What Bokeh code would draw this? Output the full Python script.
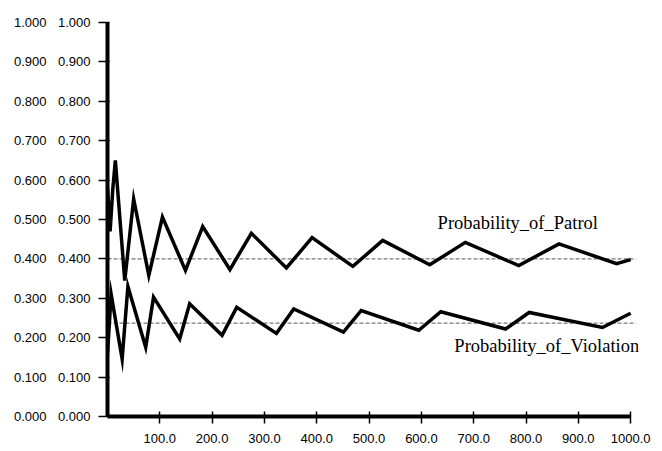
from bokeh.plotting import figure
from bokeh.models import Range1d, LinearAxis, FixedTicker, PrintfTickFormatter, Label
from bokeh.embed import file_html
from bokeh.resources import INLINE

# ---- data ----
t_patrol = [0, 5, 10, 15, 33, 50, 79, 105, 149, 182, 234, 275, 342, 391, 469, 526, 616, 684, 786, 863, 973, 1000]
patrol = [0.58, 0.47, 0.575, 0.65, 0.345, 0.552, 0.358, 0.506, 0.371, 0.482, 0.373, 0.465,
          0.377, 0.454, 0.381, 0.447, 0.385, 0.442, 0.383, 0.438, 0.388, 0.398]
t_violation = [0, 4, 7, 28, 39, 73, 88, 138, 157, 219, 247, 323, 356, 451, 485, 595, 637, 761, 806, 946, 1000]
violation = [0.16, 0.245, 0.31, 0.146, 0.33, 0.176, 0.303, 0.197, 0.286, 0.206, 0.277, 0.211,
             0.273, 0.214, 0.269, 0.219, 0.266, 0.222, 0.264, 0.226, 0.262]
t_equilibrium = [0, 1010]
patrol_equilibrium = 0.40
violation_equilibrium = 0.237
x_ticks = [100, 200, 300, 400, 500, 600, 700, 800, 900, 1000]
y_ticks = [0.0, 0.1, 0.2, 0.3, 0.4, 0.5, 0.6, 0.7, 0.8, 0.9, 1.0]
label_patrol = "Probability_of_Patrol"
label_violation = "Probability_of_Violation"

TICK_FONT = "Liberation Sans"

p = figure(width=662, height=451, x_range=Range1d(0, 1015), y_range=Range1d(0, 1),
           output_backend="svg", toolbar_location=None,
           min_border_left=107, min_border_right=24, min_border_top=22, min_border_bottom=35)
p.xgrid.visible = False
p.ygrid.visible = False
p.outline_line_color = None
p.background_fill_color = "white"
p.border_fill_color = "white"

# equilibrium reference lines
p.line(t_equilibrium, [patrol_equilibrium] * 2, line_color="#555555", line_width=1, line_dash="4 2")
p.line(t_equilibrium, [violation_equilibrium] * 2, line_color="#555555", line_width=1, line_dash="4 2")

# series
p.line(t_patrol, patrol, line_color="black", line_width=3.5, line_join="miter")
p.line(t_violation, violation, line_color="black", line_width=3.5, line_join="miter")

# x axis
xa = p.xaxis[0]
xa.ticker = FixedTicker(ticks=x_ticks)
xa.formatter = PrintfTickFormatter(format="%.1f")
xa.bounds = (0, 1000)
xa.axis_line_width = 4
xa.axis_line_color = "black"
xa.major_tick_in = 5
xa.major_tick_out = 7
xa.major_tick_line_width = 1.5
xa.minor_tick_line_color = None
xa.major_label_standoff = 10
xa.major_label_text_font = TICK_FONT
xa.major_label_text_font_size = "13px"
xa.major_label_text_color = "black"

# y axis (inner)
ya = p.yaxis[0]
ya.ticker = FixedTicker(ticks=y_ticks)
ya.formatter = PrintfTickFormatter(format="%.3f")
ya.bounds = (0, 1)
ya.axis_line_width = 4
ya.axis_line_color = "black"
ya.major_tick_in = 2
ya.major_tick_out = 9
ya.major_tick_line_width = 1.5
ya.minor_tick_line_color = None
ya.major_label_standoff = 8
ya.major_label_text_font = TICK_FONT
ya.major_label_text_font_size = "13px"
ya.major_label_text_color = "black"

# y axis (outer duplicate labels)
ya2 = LinearAxis(ticker=FixedTicker(ticks=y_ticks), formatter=PrintfTickFormatter(format="%.3f"),
                 axis_line_color=None, major_tick_line_color=None, minor_tick_line_color=None,
                 major_tick_in=0, major_tick_out=0, major_label_standoff=8,
                 major_label_text_font=TICK_FONT, major_label_text_font_size="13px",
                 major_label_text_color="black",
                 axis_label=" ", axis_label_standoff=0, axis_label_text_font_size="7px")
p.add_layout(ya2, "left")

# series labels
p.add_layout(Label(x=631, y=0.49, text=label_patrol, text_font="Liberation Serif",
                   text_font_size="18.5px", text_color="black", text_baseline="alphabetic"))
p.add_layout(Label(x=663, y=0.178, text=label_violation, text_font="Liberation Serif",
                   text_font_size="18.5px", text_color="black", text_baseline="alphabetic"))

open("out.html", "w").write(file_html(p, INLINE))
